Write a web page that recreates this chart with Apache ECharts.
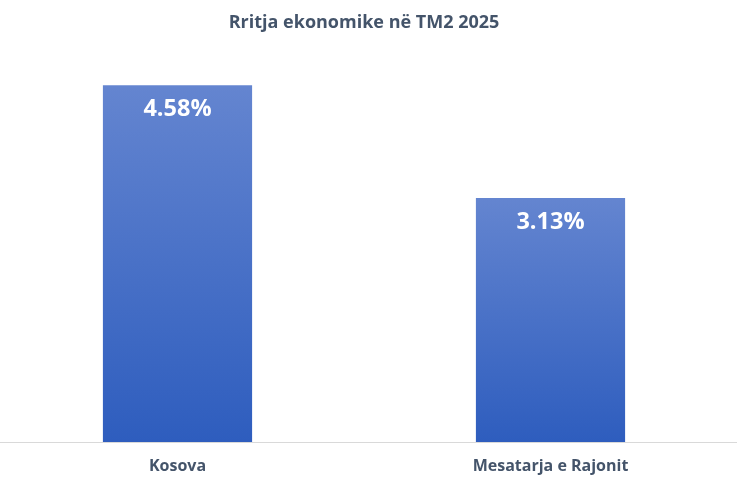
<!DOCTYPE html>
<html><head><meta charset="utf-8">
<script src="https://cdn.jsdelivr.net/npm/echarts@6/dist/echarts.min.js"></script>
<style>html,body{margin:0;padding:0;background:#fff;overflow:hidden}#c{position:absolute;left:-9px;top:0;width:746px;height:484px}</style>
</head><body><div id="c"></div>
<script>
const titleText = "Rritja ekonomike në TM2 2025";
const categories = ["Kosova", "Mesatarja e Rajonit"];
const values = [4.58, 3.13];

const chart = echarts.init(document.getElementById('c'), null, {renderer: 'canvas'});
chart.setOption({
  backgroundColor: '#ffffff',
  animation: false,
  title: {
    text: titleText, left: 'center', top: 9,
    textStyle: {fontFamily: 'Open Sans', fontWeight: 'bold', fontSize: 18, color: '#44546A'}
  },
  grid: {left: 0, right: 0, top: 52.4, bottom: 42, containLabel: false},
  xAxis: {
    type: 'category', data: categories,
    axisLine: {show: true, lineStyle: {color: '#D9D9D9', width: 1}},
    axisTick: {show: false},
    axisLabel: {margin: 16, fontFamily: 'Open Sans', fontWeight: 'bold', fontSize: 16, color: '#44546A'}
  },
  yAxis: {type: 'value', min: 0, max: 5, show: false, splitLine: {show: false}},
  series: [{
    type: 'bar', data: values, barWidth: '40%',
    itemStyle: {color: new echarts.graphic.LinearGradient(0, 0, 0, 1, [
      {offset: 0, color: '#6485D0'}, {offset: 1, color: '#2E5DBE'}])},
    label: {show: true, position: 'insideTop', distance: 12,
      formatter: p => p.value.toFixed(2) + '%',
      fontFamily: 'Open Sans', fontWeight: 'bold', fontSize: 23.5, color: '#ffffff'}
  }]
});
</script></body></html>
